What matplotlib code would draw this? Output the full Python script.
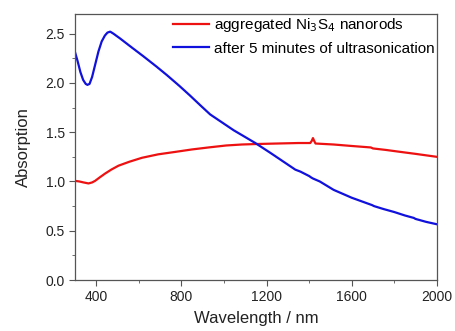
import numpy as np
import matplotlib
matplotlib.use('Agg')
import matplotlib.pyplot as plt
from matplotlib.ticker import MultipleLocator

plt.rcParams['font.family'] = ['Liberation Sans', 'DejaVu Sans']

# aggregated Ni3S4 nanorods (red)
red_x = [300, 320, 340, 363, 380, 394, 415, 441, 470, 504, 555, 614, 690, 771, 850,
         927, 1010, 1084, 1155, 1250, 1350, 1405, 1412, 1418, 1424, 1430, 1515, 1600,
         1690, 1700, 1760, 1829, 1900, 1950, 2000]
red_y = [1.006, 1.00, 0.99, 0.98, 0.99, 1.006, 1.04, 1.08, 1.12, 1.16, 1.20, 1.24,
         1.275, 1.30, 1.325, 1.345, 1.365, 1.375, 1.38, 1.385, 1.39, 1.39, 1.41, 1.44,
         1.41, 1.385, 1.375, 1.36, 1.345, 1.335, 1.32, 1.30, 1.28, 1.265, 1.25]

# after 5 minutes of ultrasonication (blue)
blue_x = [300, 312, 325, 338, 350, 358, 368, 380, 395, 410, 425, 440, 452, 465, 480,
          512, 560, 621, 680, 731, 790, 841, 890, 935, 990, 1045, 1100, 1147, 1218,
          1280, 1335, 1359, 1400, 1410, 1418, 1450, 1515, 1600, 1696, 1705, 1750,
          1800, 1850, 1892, 1900, 1950, 2000]
blue_y = [2.31, 2.22, 2.11, 2.03, 1.99, 1.98, 1.99, 2.06, 2.19, 2.32, 2.42, 2.48,
          2.51, 2.52, 2.50, 2.45, 2.37, 2.27, 2.17, 2.08, 1.97, 1.87, 1.77, 1.68,
          1.60, 1.52, 1.45, 1.39, 1.29, 1.20, 1.12, 1.10, 1.055, 1.04, 1.03, 1.00,
          0.915, 0.835, 0.76, 0.75, 0.72, 0.69, 0.655, 0.63, 0.62, 0.59, 0.566]

labels = ['aggregated Ni$_3$S$_4$ nanorods', 'after 5 minutes of ultrasonication']

fig = plt.figure(figsize=(4.55, 3.31), dpi=100)
ax = fig.add_axes([0.165, 0.154, 0.795, 0.804])

ax.plot(red_x, red_y, color='#ee1111', lw=1.6, label=labels[0])
ax.plot(blue_x, blue_y, color='#1111dd', lw=1.6, label=labels[1])

ax.set_xlim(300, 2000)
ax.set_ylim(0, 2.7)
ax.xaxis.set_minor_locator(MultipleLocator(200))
ax.yaxis.set_major_locator(MultipleLocator(0.5))
ax.yaxis.set_minor_locator(MultipleLocator(0.25))
ax.set_xticks([400, 800, 1200, 1600, 2000])
ax.yaxis.set_major_formatter(plt.FormatStrFormatter('%.1f'))

for s in ax.spines.values():
    s.set_color('#555555')
    s.set_linewidth(0.9)
ax.tick_params(which='both', direction='out', colors='#555555', labelcolor='#222222',
               labelsize=10)
ax.tick_params(which='major', length=4)
ax.tick_params(which='minor', length=2.5)

ax.set_xlabel('Wavelength / nm', fontsize=12, color='#222222', labelpad=5)
ax.set_ylabel('Absorption', fontsize=12, color='#222222', labelpad=10)

ax.legend(loc='upper right', frameon=False, fontsize=11, handlelength=2.3,
          handletextpad=0.35, borderaxespad=0.0, borderpad=0.15, labelspacing=0.5)

fig.savefig('out.png', dpi=100)
